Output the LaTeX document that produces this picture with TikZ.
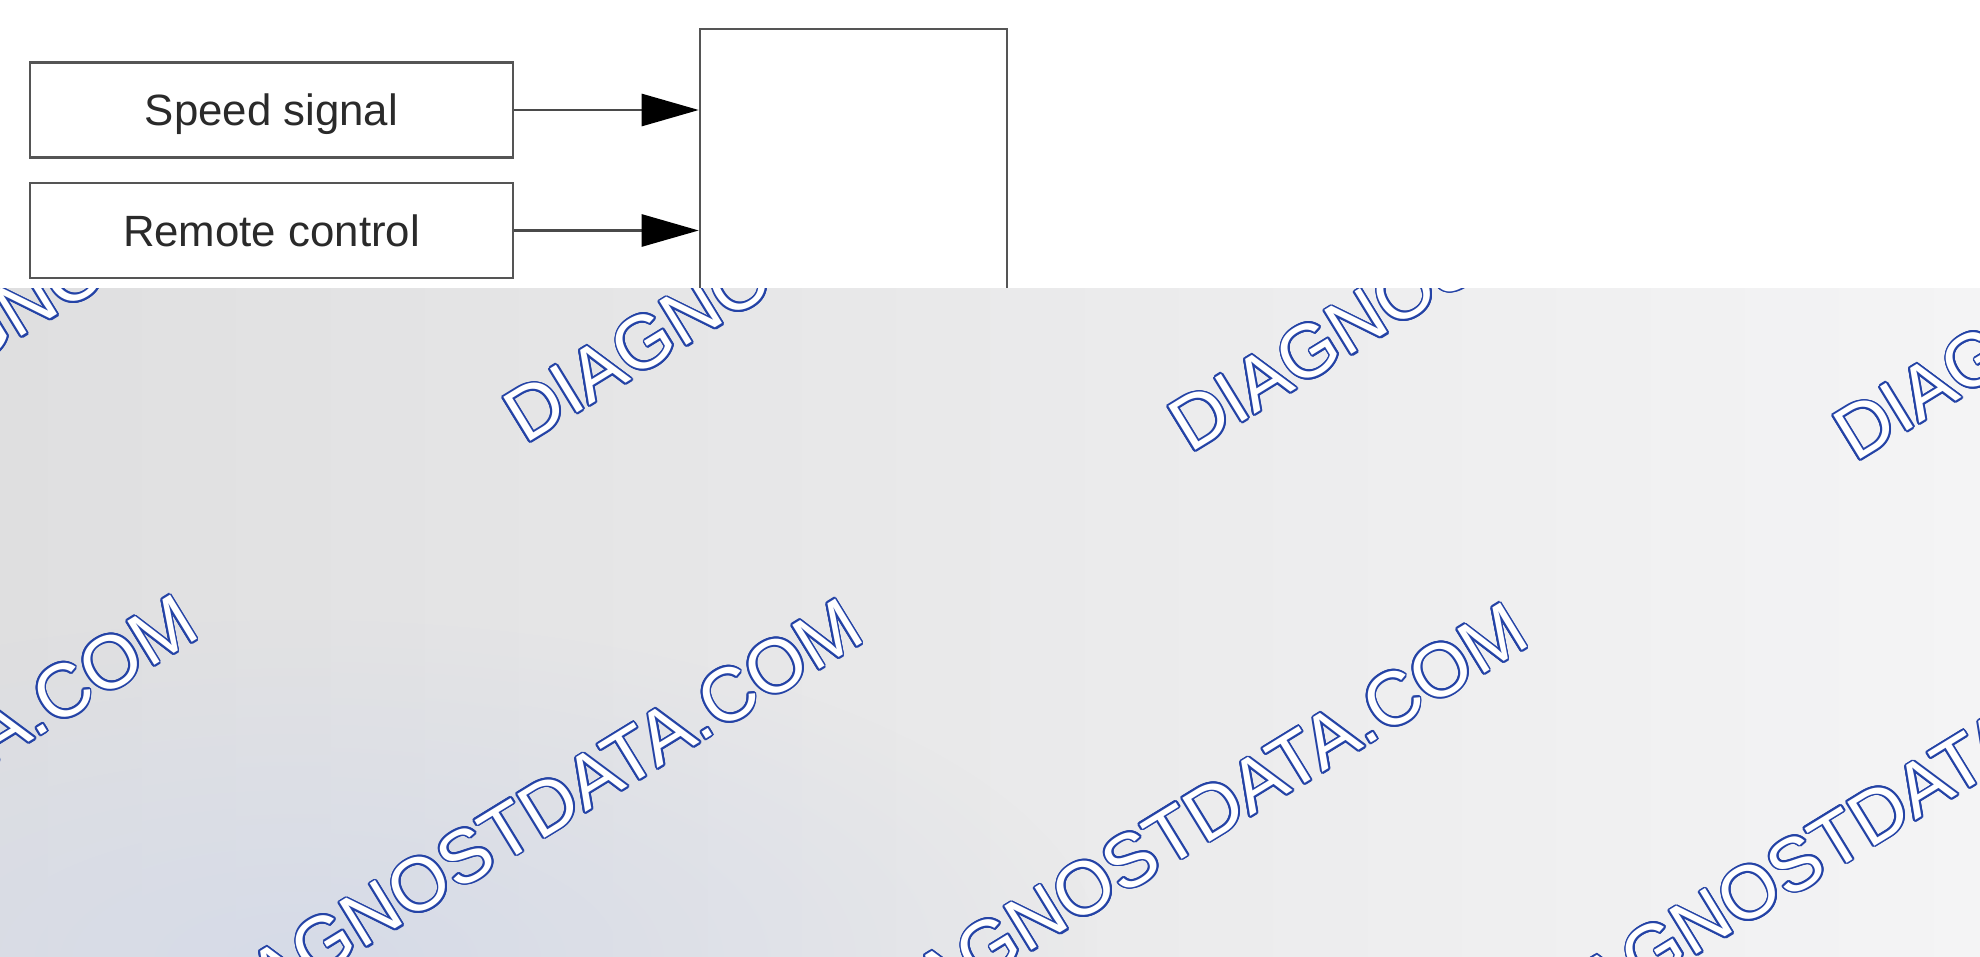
\documentclass[tikz,border=0pt]{standalone}
\usepackage{fontspec}
\setmainfont{Liberation Sans}
\usepackage{contour}
\usetikzlibrary{arrows.meta,fadings}
\definecolor{boxline}{HTML}{555555}
\definecolor{txtgray}{HTML}{2A2A2A}
\definecolor{wmblue}{HTML}{2443A6}
\definecolor{bgleft}{HTML}{DFDFE0}
\definecolor{bgright}{HTML}{F4F4F5}
\definecolor{bgblue}{HTML}{D6DBE8}
\tikzfading[name=bluefade, inner color=transparent!0, outer color=transparent!100]
\contourlength{0.9pt}
\tikzset{
  inbox/.style={draw=boxline, line width=1.3pt, minimum width=241.5pt, minimum height=47.5pt,
    inner sep=0pt, text=txtgray, font=\fontsize{21.9}{26}\selectfont, text height=15.7pt, text depth=0pt},
  unitbox/.style={draw=boxline, line width=1.3pt, minimum width=153.5pt, minimum height=235.5pt, inner sep=0pt},
  sigarrow/.style={draw=txtgray!85, line width=1.4pt, -{Triangle[length=28.5pt,width=16pt,color=black]}},
  wmark/.style={rotate=31.5, anchor=base west, inner sep=0pt, text=white,
    font=\fontsize{37.5}{44}\selectfont}
}

\begin{document}
\begin{tikzpicture}[x=0.5pt,y=-0.5pt]
		\useasboundingbox (0,0) rectangle (1980,957);
		\fill[white] (0,0) rectangle (1980,957);
		% INPUT BOXES
		\node[inbox] (speed) at (271.5,110) {Speed signal};
		\node[inbox] (remote) at (271.5,230.5) {Remote control};
		% CONTROL UNIT
		\node[unitbox] (ctrlunit) at (853.5,264.5) {};
		\draw[sigarrow] (speed.east) -- (speed.east -| ctrlunit.west);
		\draw[sigarrow] (remote.east) -- (remote.east -| ctrlunit.west);
		% GREY BAND
		\begin{scope}
		\clip (0,288) rectangle (1980,957);
		\fill[left color=bgleft, right color=bgright] (0,288) rectangle (1980,957);
		\fill[bgblue, path fading=bluefade] (-500,620) rectangle (1100,1300);
		\foreach \k in {0,...,3} {
			\node[wmark] (wmtop\k) at ({-140+665*\k},{436+9*\k}) {\contour{wmblue}{DIAGNOSTDATA.COM}};
			\node[wmark] (wmlow\k) at ({-460+665*\k},{1042+4*\k}) {\contour{wmblue}{DIAGNOSTDATA.COM}};
		}
		\end{scope}
\end{tikzpicture}
\end{document}
